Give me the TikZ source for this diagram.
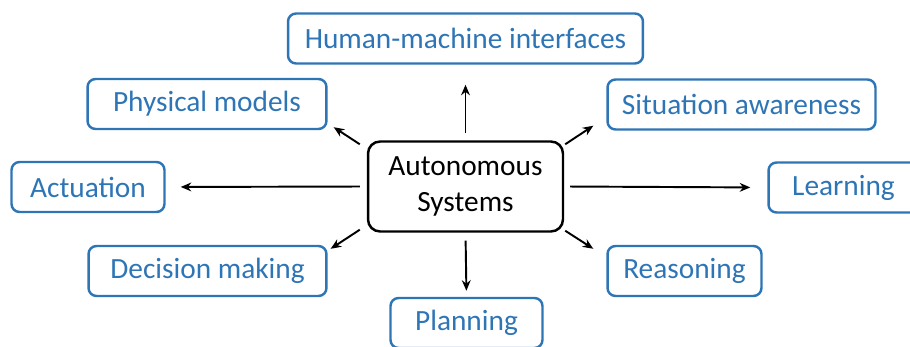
\documentclass[tikz,border=0pt]{standalone}
\usepackage{fontspec}
\setmainfont{Carlito}
\usepackage{xcolor}
\usepackage{tikz}
\usetikzlibrary{shapes,arrows,arrows.meta,positioning,calc}

\definecolor{boxblue}{HTML}{2E75B6}

\begin{document}
\begin{tikzpicture}[
    x=0.02cm, y=-0.02cm,
    font=\fontsize{16.7}{20}\selectfont,
    concept/.style={rectangle, draw=boxblue, text=boxblue, line width=1.4pt, rounded corners=0.16cm, minimum height=1.0cm, inner sep=0pt, text centered},
    core/.style={rectangle, draw=black, line width=1.4pt, rounded corners=0.24cm, minimum width=3.9cm, minimum height=1.8cm, inner sep=0pt, align=center},
    arrow/.style={->, >={Stealth[length=6pt,width=5pt]}, line width=1.1pt}
]
    \useasboundingbox (0,0) rectangle (910,347);

    % Centre
    \node[core] (auto) at (465.5,186.5) {Autonomous\\Systems};

    % Topics
    \node[concept, minimum width=7.1cm] (hmi) at (465.5,38.5) {Human-machine interfaces};
    \node[concept, minimum width=4.78cm] (phys) at (207,104) {Physical models};
    \node[concept, minimum width=5.36cm] (sit) at (741.5,104.5) {Situation awareness};
    \node[concept, minimum width=3.06cm] (act) at (88,187) {Actuation};
    \node[concept, minimum width=3.0cm] (learn) at (843.5,187.5) {Learning};
    \node[concept, minimum width=4.76cm] (dec) at (207.5,271) {Decision making};
    \node[concept, minimum width=3.08cm] (reas) at (684.5,271) {Reasoning};
    \node[concept, minimum width=3.04cm] (plan) at (466.5,323) {Planning};

    % Arrows
    \draw[arrow, shorten <=0.14cm, shorten >=0.4cm] (auto.north) -- (hmi.south);
    \draw[arrow, shorten <=0.16cm, shorten >=0.12cm] (auto.south) -- (plan.north);
    \draw[arrow, shorten <=0.14cm, shorten >=0.3cm] (auto.west) -- (act.east);
    \draw[arrow, shorten <=0.12cm, shorten >=0.34cm] (auto.east) -- (learn.west);
    \draw[arrow] ([shift={(-7,4)}]auto.north west) -- ([shift={(6,-3)}]phys.south east);
    \draw[arrow] ([shift={(1,4)}]auto.north east) -- ([shift={(-13,-5)}]sit.south west);
    \draw[arrow] ([shift={(-7,-3)}]auto.south west) -- ([shift={(3,4)}]dec.north east);
    \draw[arrow] ([shift={(1,-2)}]auto.south east) -- ([shift={(-13,4)}]reas.north west);
\end{tikzpicture}
\end{document}
